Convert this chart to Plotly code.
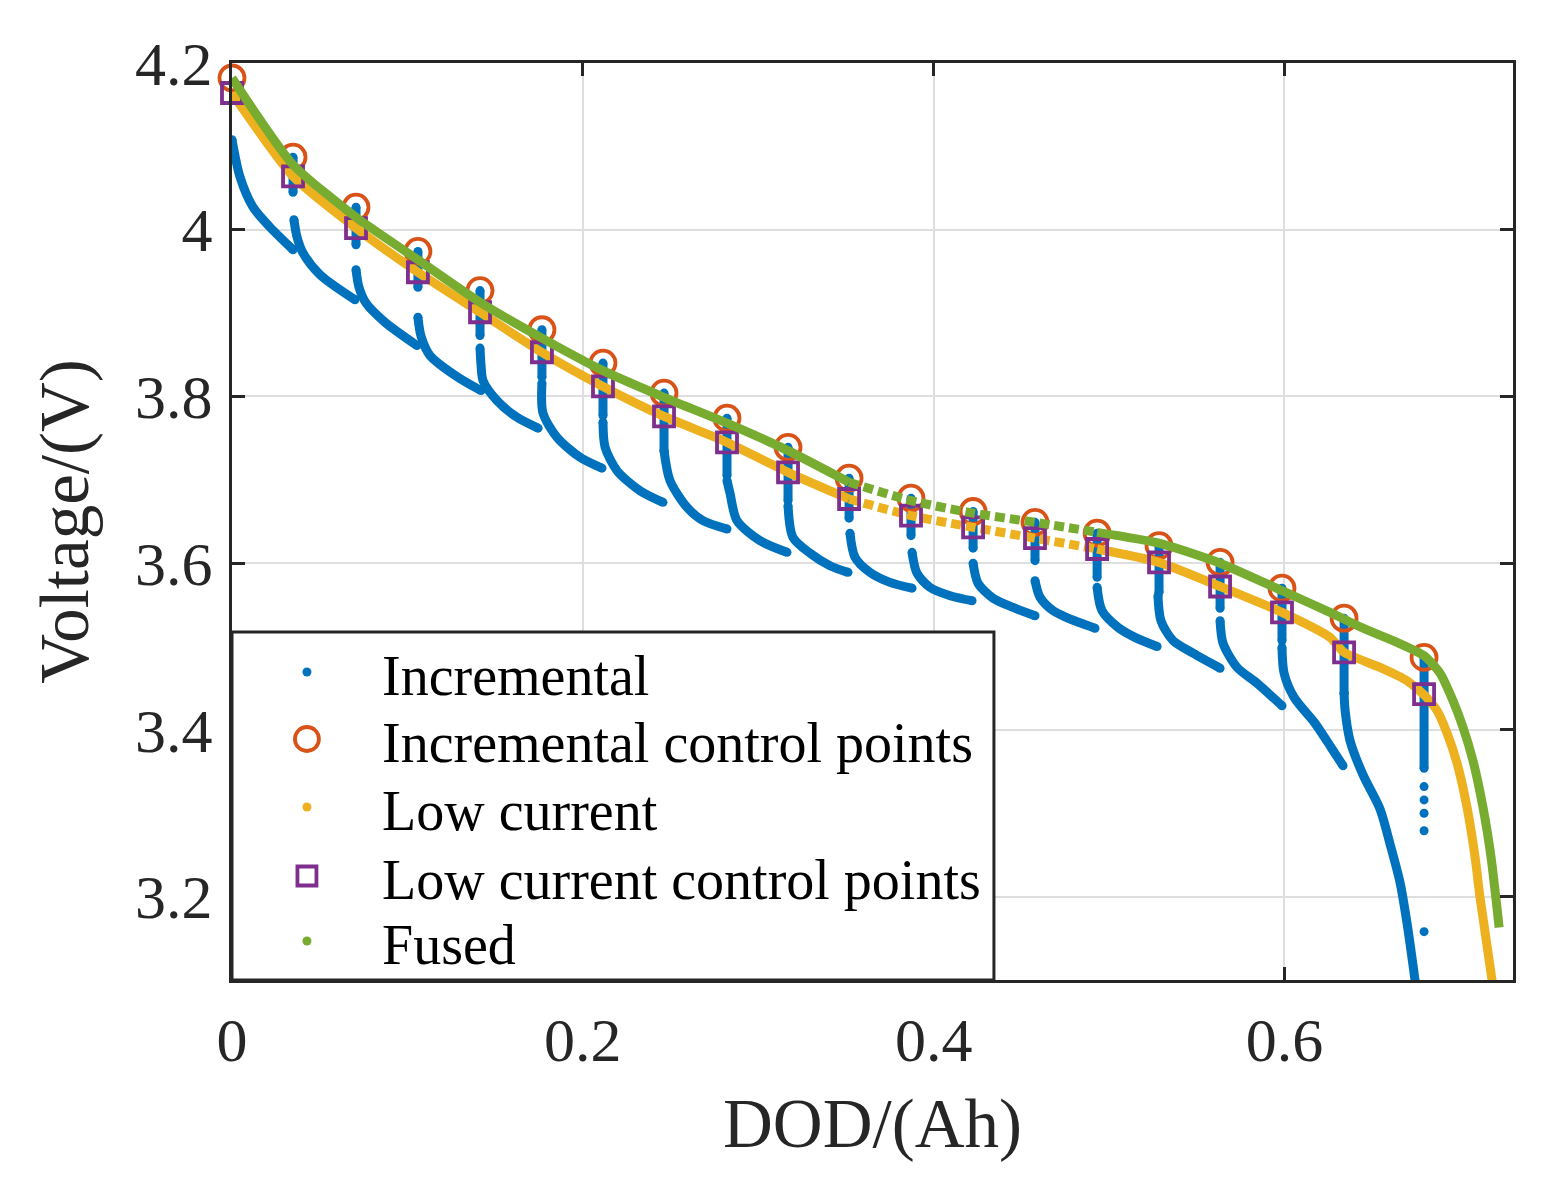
import plotly.graph_objects as go

# ---------------- data ----------------
ctrl_dod = [0.0, 0.0348, 0.0707, 0.1060, 0.1414, 0.1767, 0.2115, 0.2463, 0.2822, 0.3170,
            0.3518, 0.3871, 0.4225, 0.4578, 0.4932, 0.5285, 0.5633, 0.5986, 0.6340, 0.6796]
inc_ctrl_v = [4.182, 4.087, 4.027, 3.974, 3.927, 3.880, 3.840, 3.804, 3.774, 3.739,
              3.702, 3.678, 3.662, 3.649, 3.636, 3.621, 3.601, 3.570, 3.534, 3.487]
low_ctrl_v = [4.164, 4.064, 4.002, 3.949, 3.901, 3.853, 3.812, 3.776, 3.745, 3.709,
              3.677, 3.657, 3.643, 3.630, 3.617, 3.601, 3.572, 3.541, 3.493, 3.443]

# incremental test: discharge pulses (one list per pulse)
inc_pulse_dod = [
    [0.0000, 0.0046, 0.0120, 0.0217, 0.0348],
    [0.0353, 0.0371, 0.0405, 0.0502, 0.0701],
    [0.0707, 0.0724, 0.0764, 0.0872, 0.1055],
    [0.1060, 0.1078, 0.1129, 0.1288, 0.1420],
    [0.1414, 0.1420, 0.1431, 0.1511, 0.1625, 0.1745],
    [0.1767, 0.1773, 0.1853, 0.1984, 0.2109],
    [0.2115, 0.2127, 0.2195, 0.2326, 0.2457],
    [0.2463, 0.2497, 0.2594, 0.2685, 0.2822],
    [0.2822, 0.2839, 0.2879, 0.3010, 0.3164],
    [0.3170, 0.3198, 0.3295, 0.3409, 0.3512],
    [0.3523, 0.3552, 0.3637, 0.3751, 0.3877],
    [0.3877, 0.3905, 0.3979, 0.4094, 0.4219],
    [0.4225, 0.4253, 0.4339, 0.4453, 0.4578],
    [0.4578, 0.4607, 0.4681, 0.4766, 0.4920],
    [0.4932, 0.4960, 0.5051, 0.5148, 0.5274],
    [0.5279, 0.5296, 0.5365, 0.5479, 0.5633],
    [0.5633, 0.5650, 0.5730, 0.5844, 0.5986],
    [0.5986, 0.5998, 0.6055, 0.6174, 0.6266, 0.6334],
    [0.6340, 0.6346, 0.6374, 0.6448, 0.6545, 0.6602, 0.6659, 0.6699, 0.6745],
]
inc_pulse_v = [
    [4.108, 4.063, 4.027, 4.003, 3.976],
    [4.012, 3.991, 3.972, 3.946, 3.916],
    [3.952, 3.931, 3.912, 3.889, 3.861],
    [3.895, 3.872, 3.849, 3.823, 3.807],
    [3.858, 3.837, 3.819, 3.795, 3.775, 3.762],
    [3.816, 3.780, 3.751, 3.727, 3.714],
    [3.769, 3.739, 3.711, 3.687, 3.673],
    [3.735, 3.699, 3.667, 3.651, 3.641],
    [3.699, 3.684, 3.651, 3.627, 3.613],
    [3.669, 3.631, 3.612, 3.597, 3.589],
    [3.636, 3.607, 3.589, 3.577, 3.570],
    [3.613, 3.588, 3.571, 3.561, 3.555],
    [3.600, 3.576, 3.558, 3.547, 3.537],
    [3.579, 3.559, 3.543, 3.534, 3.522],
    [3.571, 3.543, 3.523, 3.511, 3.500],
    [3.561, 3.531, 3.507, 3.492, 3.474],
    [3.531, 3.504, 3.475, 3.456, 3.429],
    [3.499, 3.468, 3.439, 3.408, 3.379, 3.357],
    [3.444, 3.423, 3.387, 3.346, 3.305, 3.263, 3.217, 3.168, 3.099],
]
# incremental test: rest relaxation, lowest visible voltage at each control point (from the 2nd one)
inc_rest_low_v = [4.045, 3.982, 3.931, 3.873, 3.823, 3.777, 3.735, 3.705, 3.675, 3.654,
                  3.633, 3.618, 3.603, 3.583, 3.565, 3.546, 3.507, 3.444, 3.354]
inc_last_rest_dots_v = [3.332, 3.316, 3.300, 3.279, 3.158]

low_dod = [0.0, 0.0348, 0.0707, 0.1060, 0.1414, 0.1767, 0.2115, 0.2463, 0.2822, 0.3170,
           0.3518, 0.3871, 0.4225, 0.4578, 0.4932, 0.5285, 0.5633, 0.5986, 0.6260, 0.6340,
           0.6545, 0.6699, 0.6796, 0.6870, 0.6927, 0.6984, 0.7041, 0.7087, 0.7115, 0.7184]
low_v = [4.164, 4.064, 4.002, 3.949, 3.901, 3.853, 3.812, 3.776, 3.745, 3.709,
         3.677, 3.657, 3.643, 3.630, 3.617, 3.601, 3.572, 3.541, 3.511, 3.493,
         3.475, 3.459, 3.442, 3.423, 3.396, 3.360, 3.307, 3.247, 3.199, 3.099]

fused_dod = [0.0, 0.0348, 0.0707, 0.1060, 0.1414, 0.1767, 0.2115, 0.2463, 0.2822, 0.3170,
             0.3518, 0.3871, 0.4225, 0.4578, 0.4932, 0.5285, 0.5633, 0.5986, 0.6260, 0.6448,
             0.6642, 0.6796, 0.6887, 0.6961, 0.7018, 0.7075, 0.7132, 0.7178, 0.7224]
fused_v = [4.182, 4.078, 4.015, 3.964, 3.913, 3.870, 3.831, 3.799, 3.768, 3.735,
           3.697, 3.675, 3.660, 3.649, 3.637, 3.624, 3.600, 3.567, 3.541, 3.522,
           3.505, 3.489, 3.468, 3.435, 3.403, 3.363, 3.307, 3.247, 3.163]

x_ticks = [0, 0.2, 0.4, 0.6]
x_tick_text = ["0", "0.2", "0.4", "0.6"]
y_ticks = [3.2, 3.4, 3.6, 3.8, 4.0, 4.2]
y_tick_text = ["3.2", "3.4", "3.6", "3.8", "4", "4.2"]

series_names = ["Incremental", "Incremental control points", "Low current",
                "Low current control points", "Fused"]

# ---------------- style ----------------
BLUE, ORANGE, YELLOW, PURPLE, GREEN = "#0072BD", "#D95319", "#EDB120", "#7E2F8E", "#77AC30"
INK = "#262626"
FONT = "Liberation Serif"
LW = 9
RING_W = 3.8
SPARSE_FROM, SPARSE_TO = 10, 14   # control-point indices where the dense dots thin out

fig = go.Figure()

# Incremental - pulses
for sx, sy in zip(inc_pulse_dod, inc_pulse_v):
    fig.add_trace(go.Scatter(x=sx, y=sy, mode="lines", showlegend=False,
                             line=dict(color=BLUE, width=LW, shape="spline", smoothing=0.8)))
    fig.add_trace(go.Scatter(x=[sx[0], sx[-1]], y=[sy[0], sy[-1]], mode="markers", showlegend=False,
                             marker=dict(color=BLUE, size=LW)))
# Incremental - rest relaxation
rx, ry = [], []
for cx, top, low in zip(ctrl_dod[1:], inc_ctrl_v[1:], inc_rest_low_v):
    rx += [cx, cx, None]
    ry += [top, low, None]
fig.add_trace(go.Scatter(x=rx, y=ry, mode="lines+markers", showlegend=False,
                         line=dict(color=BLUE, width=LW), marker=dict(color=BLUE, size=LW)))
fig.add_trace(go.Scatter(x=[ctrl_dod[-1]] * len(inc_last_rest_dots_v), y=inc_last_rest_dots_v,
                         mode="markers", showlegend=False, marker=dict(color=BLUE, size=LW)))

# Incremental control points
fig.add_trace(go.Scatter(x=ctrl_dod, y=inc_ctrl_v, mode="markers", name=series_names[1],
                         showlegend=False, cliponaxis=False,
                         marker=dict(symbol="circle-open", size=25, color=ORANGE,
                                     line=dict(width=RING_W, color=ORANGE))))


def split_line(xs, ys, color):
    a = xs.index(ctrl_dod[SPARSE_FROM])
    b = xs.index(ctrl_dod[SPARSE_TO])
    for lo, hi, dash in ((0, a + 1, "solid"), (a, b + 1, "10px,5px"), (b, len(xs), "solid")):
        fig.add_trace(go.Scatter(x=xs[lo:hi], y=ys[lo:hi], mode="lines", showlegend=False,
                                 line=dict(color=color, width=LW, dash=dash, shape="spline", smoothing=0.6)))


# Low current
split_line(low_dod, low_v, YELLOW)
# Low current control points
fig.add_trace(go.Scatter(x=ctrl_dod, y=low_ctrl_v, mode="markers", name=series_names[3],
                         showlegend=False, cliponaxis=False,
                         marker=dict(symbol="square-open", size=20, color=PURPLE,
                                     line=dict(width=RING_W, color=PURPLE))))
# Fused
split_line(fused_dod, fused_v, GREEN)

# ---------------- legend (box, keys and real text) ----------------
LEG_X1, LEG_Y1 = 0.5948, 0.3795          # box, in plot-area fractions
KEY_X, TXT_X = 0.0585, 0.1155
ROW_Y = [0.3359, 0.2628, 0.1887, 0.1134, 0.0425]
shapes = [dict(type="rect", xref="paper", yref="paper", x0=0, y0=0, x1=LEG_X1, y1=LEG_Y1,
               line=dict(color=INK, width=3), fillcolor="white", layer="above")]
key_styles = [("dot", BLUE), ("ring", ORANGE), ("dot", YELLOW), ("box", PURPLE), ("dot", GREEN)]
for (kind, col), ry_ in zip(key_styles, ROW_Y):
    if kind == "dot":
        s, t, fill, lw = 9, "circle", col, 0
    elif kind == "ring":
        s, t, fill, lw = 24, "circle", "rgba(0,0,0,0)", RING_W
    else:
        s, t, fill, lw = 19, "rect", "rgba(0,0,0,0)", RING_W
    shapes.append(dict(type=t, xref="paper", yref="paper", xsizemode="pixel", ysizemode="pixel",
                       xanchor=KEY_X, yanchor=ry_, x0=-s / 2, x1=s / 2, y0=-s / 2, y1=s / 2,
                       fillcolor=fill, line=dict(color=col, width=lw), layer="above"))
annotations = [dict(xref="paper", yref="paper", x=TXT_X, y=ry_ - 0.004, xanchor="left", yanchor="middle",
                    text=name, showarrow=False, font=dict(family=FONT, size=56, color="black"))
               for name, ry_ in zip(series_names, ROW_Y)]

axis_common = dict(showline=True, linecolor=INK, linewidth=3, mirror="ticks",
                   ticks="inside", ticklen=13, tickwidth=2.5, tickcolor=INK,
                   showgrid=True, gridcolor="#dedede", gridwidth=2, zeroline=False,
                   tickfont=dict(family=FONT, size=62, color=INK),
                   title_font=dict(family=FONT, size=69, color=INK))

fig.update_xaxes(range=[0, 0.7303], tickvals=x_ticks, ticktext=x_tick_text,
                 ticklabelstandoff=4, title_text="DOD/(Ah)", title_standoff=26, **axis_common)
fig.update_yaxes(range=[3.1, 4.2], tickvals=y_ticks, ticktext=y_tick_text,
                 ticklabelstandoff=4, title_text="Voltage/(V)", title_standoff=24, **axis_common)

fig.update_layout(
    width=1530, height=1177,
    margin=dict(l=224, r=25, t=55, b=205),
    paper_bgcolor="white", plot_bgcolor="white",
    font=dict(family=FONT, color=INK),
    showlegend=False,
    shapes=shapes, annotations=annotations,
)

fig.write_html("out.html")
